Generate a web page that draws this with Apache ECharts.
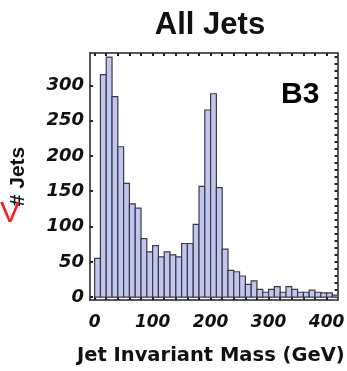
<!DOCTYPE html>
<html>
<head>
<meta charset="utf-8">
<script src="https://cdn.jsdelivr.net/npm/echarts@6/dist/echarts.min.js"></script>
<style>
  html, body { margin: 0; padding: 0; background: #ffffff; }
  #chart { width: 347px; height: 371px; }
</style>
</head>
<body>
<div id="chart"></div>
<script>
// Jet invariant mass histogram: 10 GeV bins, counts per bin
const binWidth = 10;
const binStarts = [
  0, 10, 20, 30, 40, 50, 60, 70, 80, 90,
  100, 110, 120, 130, 140, 150, 160, 170, 180, 190,
  200, 210, 220, 230, 240, 250, 260, 270, 280, 290,
  300, 310, 320, 330, 340, 350, 360, 370, 380, 390,
  400, 410
];
const jetCounts = [
  55, 315, 340, 284, 213, 161, 132, 126, 83, 64,
  73, 57, 64, 60, 57, 76, 76, 103, 157, 265,
  288, 155, 68, 38, 36, 30, 18, 23, 11, 7,
  11, 15, 7, 15, 11, 7, 7, 10, 7, 6,
  6, 3
];

// Axis tick labels and tick mark positions
const xTickLabels = [0, 100, 200, 300, 400];
const xTickMarks = [0, 20, 40, 60, 80, 100, 120, 140, 160, 180, 200, 220, 240, 260, 280, 300, 320, 340, 360, 380, 400];
const yTickLabels = [0, 50, 100, 150, 200, 250, 300];
const yRightTickMarks = [0, 10, 20, 30, 40, 50, 60, 70, 80, 90, 100, 110, 120, 130, 140, 150, 160, 170, 180, 190,
  200, 210, 220, 230, 240, 250, 260, 270, 280, 290, 300, 310, 320, 330, 340];

const titleText = 'All Jets';
const xName = 'Jet Invariant Mass (GeV)';
const yName = '# Jets';
const panelTag = 'B3';

const X_MIN = -8, X_MAX = 419;
const Y_MIN = -4, Y_MAX = 345.7;

const frameColor = '#222222';

function tickLabelStyle(size, values, margin) {
  return {
    customValues: values,
    margin: margin,
    fontFamily: 'DejaVu Sans',
    fontWeight: 'bold',
    fontStyle: 'italic',
    fontSize: size,
    color: '#111111'
  };
}

const histData = binStarts.map((x, i) => [x, jetCounts[i]]);

const chart = echarts.init(document.getElementById('chart'), null, { renderer: 'canvas' });

chart.setOption({
  animation: false,
  backgroundColor: '#ffffff',
  title: {
    text: titleText,
    left: 205,
    top: 5,
    textAlign: 'center',
    textStyle: {
      fontFamily: 'Liberation Sans',
      fontWeight: 'bold',
      fontSize: 31,
      color: '#111111'
    }
  },
  grid: { left: 83, right: 9, top: 53, bottom: 63, containLabel: false },
  xAxis: [
    {
      type: 'value',
      position: 'bottom',
      min: X_MIN,
      max: X_MAX,
      axisLine: { show: true, onZero: false, lineStyle: { color: frameColor, width: 1.5 } },
      axisTick: { show: true, inside: true, length: 3, customValues: xTickMarks, lineStyle: { color: frameColor, width: 2 } },
      axisLabel: tickLabelStyle(17, xTickLabels, 14),
      splitLine: { show: false },
      name: xName,
      nameLocation: 'middle',
      nameGap: 46,
      nameTextStyle: {
        fontFamily: 'DejaVu Sans',
        fontWeight: 'bold',
        fontSize: 19.5,
        color: '#111111',
        padding: [0, 6, 0, 0]
      }
    },
    {
      type: 'value',
      position: 'top',
      min: X_MIN,
      max: X_MAX,
      axisLine: { show: true, onZero: false, lineStyle: { color: frameColor, width: 1.5 } },
      axisTick: { show: true, inside: true, length: 3, customValues: xTickMarks, lineStyle: { color: frameColor, width: 2 } },
      axisLabel: { show: false },
      splitLine: { show: false }
    }
  ],
  yAxis: [
    {
      type: 'value',
      position: 'left',
      min: Y_MIN,
      max: Y_MAX,
      axisLine: { show: true, onZero: false, lineStyle: { color: frameColor, width: 1.5 } },
      axisTick: { show: true, inside: true, length: 3, customValues: yTickLabels, lineStyle: { color: frameColor, width: 2 } },
      axisLabel: tickLabelStyle(18, yTickLabels, 6),
      splitLine: { show: false },
      name: yName,
      nameLocation: 'middle',
      nameGap: 61,
      nameRotate: 90,
      nameTextStyle: {
        fontFamily: 'Liberation Sans',
        fontWeight: 'bold',
        fontSize: 21,
        color: '#111111'
      }
    },
    {
      type: 'value',
      position: 'right',
      min: Y_MIN,
      max: Y_MAX,
      axisLine: { show: true, onZero: false, lineStyle: { color: frameColor, width: 1.5 } },
      axisTick: { show: true, inside: true, length: 3, customValues: yRightTickMarks, lineStyle: { color: frameColor, width: 2 } },
      axisLabel: { show: false },
      splitLine: { show: false }
    }
  ],
  series: [
    {
      type: 'custom',
      xAxisIndex: 0,
      yAxisIndex: 0,
      clip: true,
      data: histData,
      renderItem: function (params, api) {
        const x0 = api.value(0);
        const count = api.value(1);
        const topLeft = api.coord([x0, count]);
        const bottomRight = api.coord([x0 + binWidth, 0]);
        return {
          type: 'rect',
          shape: {
            x: topLeft[0],
            y: topLeft[1],
            width: bottomRight[0] - topLeft[0],
            height: bottomRight[1] - topLeft[1]
          },
          style: {
            fill: '#c0c6ee',
            stroke: '#3a3a48',
            lineWidth: 1.2
          }
        };
      }
    }
  ],
  graphic: [
    {
      type: 'text',
      left: 281,
      top: 80,
      z: 10,
      style: {
        text: panelTag,
        font: 'bold 30px "Liberation Sans"',
        fill: '#000000'
      }
    },
    {
      type: 'text',
      left: 0,
      top: 199,
      z: 10,
      style: {
        text: 'V',
        font: '30px "Liberation Sans"',
        fill: '#ff1a1a'
      }
    }
  ]
});
</script>
</body>
</html>
